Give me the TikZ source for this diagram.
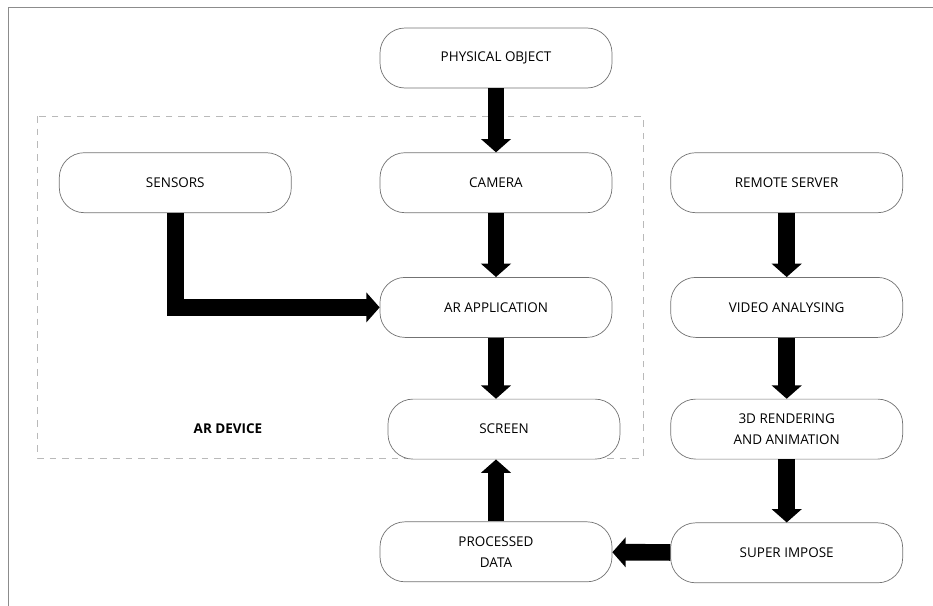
\documentclass[tikz,border=0pt]{standalone}
\usepackage{fontspec}
\setmainfont{Open Sans}
\usepackage{xcolor}
\definecolor{edge}{RGB}{115,115,115}
\definecolor{frame}{RGB}{140,140,140}
\usetikzlibrary{arrows.meta,positioning,calc}
\tikzset{
  stage/.style={draw=edge,rounded corners=7.5mm,fill=white,line width=0.6pt,%
    minimum width=6.96cm,minimum height=1.8cm,inner sep=2pt,align=center,%
    font=\fontsize{11.5}{18}\selectfont},
  flow/.style={-{Triangle[width=8.8mm,length=4mm]},line width=5mm,draw=black},
  device/.style={draw=gray!55,dash pattern=on 2mm off 1.8mm,line width=0.6pt},
}

\begin{document}
\begin{tikzpicture}[node distance=1.92cm]
\useasboundingbox (0,0) rectangle (27.99,-18.18);
\draw[frame,line width=0.8pt] (27.99,-0.21) -- (0.24,-0.21) -- (0.24,-18.18);
\draw[device] (1.11,-3.48) rectangle (19.29,-13.74);
\node[stage] (phys) at (14.88,-1.74) {PHYSICAL OBJECT};
\node[stage,below=of phys] (camera) {CAMERA};
\node[stage,left=2.64cm of camera] (sensors) {SENSORS};
\node[stage,right=1.74cm of camera] (remote) {REMOTE SERVER};
\node[stage,below=of camera] (arapp) {AR APPLICATION};
\node[stage,below=1.83cm of arapp,xshift=0.24cm] (screen) {SCREEN};
\node[stage,below=1.86cm of screen,xshift=-0.24cm] (processed) {PROCESSED\\DATA};
\node[stage,below=of remote] (video) {VIDEO ANALYSING};
\node[stage,below=1.83cm of video] (render) {3D RENDERING\\AND ANIMATION};
\node[stage,below=1.89cm of render] (superimp) {SUPER IMPOSE};
\node[font=\fontsize{11.5}{14}\selectfont\bfseries] (devlabel) at (6.84,-12.87) {AR DEVICE};
\draw[flow] (phys) -- (camera);
\draw[flow] (camera) -- (arapp);
\draw[flow] (arapp.south) -- (arapp.south |- screen.north);
\draw[flow] (sensors.south) |- (arapp.west);
\draw[flow] (processed.north) -- (processed.north |- screen.south);
\draw[flow] (remote) -- (video);
\draw[flow] (video) -- (render);
\draw[flow] (render) -- (superimp);
\draw[flow] (superimp) -- (processed);
\end{tikzpicture}
\end{document}
